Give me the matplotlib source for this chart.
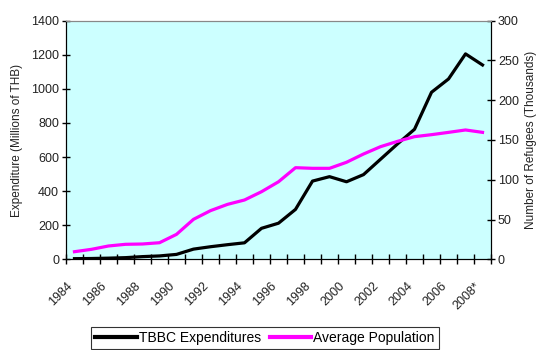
import numpy as np
import matplotlib
matplotlib.use("Agg")
import matplotlib.pyplot as plt
from matplotlib.ticker import MultipleLocator, FixedLocator
from matplotlib.transforms import ScaledTranslation

plt.rcParams['font.family'] = ['Liberation Sans Narrow', 'Liberation Sans', 'DejaVu Sans']

# TBBC expenditure (millions of baht) and average refugee population (thousands)
years = ['1984', '1985', '1986', '1987', '1988', '1989', '1990', '1991', '1992',
         '1993', '1994', '1995', '1996', '1997', '1998', '1999', '2000', '2001',
         '2002', '2003', '2004', '2005', '2006', '2007', '2008*']
expenditures = [4, 5, 7, 10, 16, 20, 29, 60, 74, 86, 97, 182, 212, 293, 459, 485,
                455, 497, 587, 677, 763, 980, 1058, 1205, 1140]
population = [9.6, 12.6, 16.8, 18.9, 19.3, 20.9, 31.4, 50.3, 61.2, 69.1, 74.6, 85.0,
              97.5, 115.2, 114.4, 114.4, 122.0, 132.4, 141.6, 148.3, 154.2, 156.7,
              159.6, 162.6, 159.6]

x = np.arange(len(years))

fig = plt.figure(figsize=(5.39, 3.5), dpi=100)
ax = fig.add_axes([0.1224, 0.259, 0.7886, 0.682])
ax.set_facecolor('#CCFFFF')
ax2 = ax.twinx()

l1, = ax.plot(x, expenditures, color='black', lw=2.3)
l2, = ax2.plot(x, population, color='#FF00FF', lw=2.3)

ax.set_xlim(-0.5, len(years) - 0.5)
ax.set_ylim(0, 1400)
ax2.set_ylim(0, 300)
ax.yaxis.set_major_locator(MultipleLocator(200))
ax2.yaxis.set_major_locator(MultipleLocator(50))

# tick marks between categories, labels on every other category
ax.xaxis.set_major_locator(FixedLocator(x[::2]))
ax.set_xticklabels(years[::2], rotation=45, ha='right', rotation_mode='anchor')
ax.xaxis.set_minor_locator(FixedLocator(np.arange(-0.5, len(years), 1)))
ax.tick_params(axis='x', which='major', length=0, pad=15, labelsize=9, labelcolor='#222222')
ax.tick_params(axis='x', which='minor', direction='inout', length=7, width=1)
ax.tick_params(axis='y', direction='inout', length=6, width=1, labelsize=9,
               labelcolor='#222222', pad=2)
ax2.tick_params(axis='y', direction='inout', length=6, width=1, labelsize=9,
                labelcolor='#222222', pad=2)

shift = ScaledTranslation(-0.08, 0, fig.dpi_scale_trans)
for lab in ax.get_xticklabels():
    lab.set_transform(lab.get_transform() + shift)

for a in (ax, ax2):
    a.spines['top'].set_color('#888888')
    a.spines['left'].set_color('black')
    a.spines['right'].set_color('black')
    a.spines['bottom'].set_color('black')

ax.set_ylabel('Expenditure (Millions of THB)', fontsize=8.5, color='#222222', labelpad=6)
ax2.set_ylabel('Number of Refugees (Thousands)', fontsize=8.5, color='#222222', labelpad=4)

leg = fig.legend([l1, l2], ['TBBC Expenditures', 'Average Population'],
                 loc='upper center', bbox_to_anchor=(0.4917, 0.0657), ncol=2,
                 fontsize=10, frameon=True, fancybox=False, handlelength=3.0,
                 handletextpad=0.15, columnspacing=0.6, borderpad=0.3, borderaxespad=0)
leg.get_frame().set_edgecolor('black')
leg.get_frame().set_linewidth(0.8)
for line in leg.get_lines():
    line.set_linewidth(3)

fig.savefig('out.png', dpi=100)
